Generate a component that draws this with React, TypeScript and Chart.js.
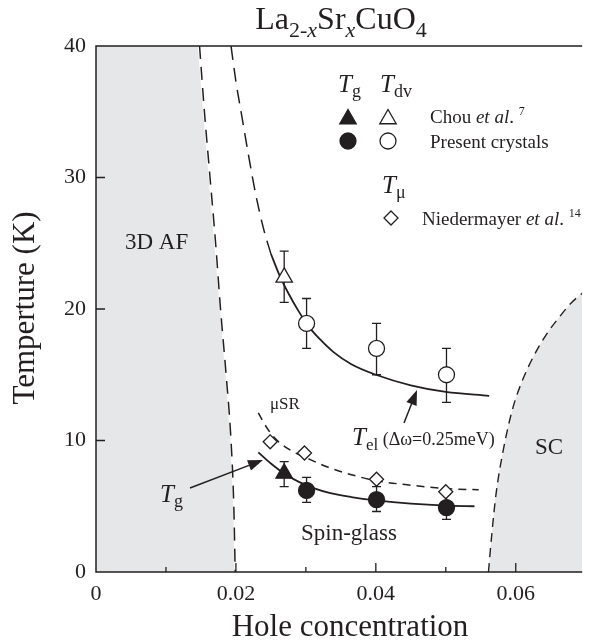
import React, { useEffect, useRef } from 'react';
import { Chart, registerables } from 'chart.js';

Chart.register(...registerables);

const INK = '#231f20';
const SHADE = '#e6e7e8';
const SERIF = '"Liberation Serif", "Times New Roman", Times, serif';

// ---------- data ----------
// 3D AF region (shaded) and its dashed boundary
const afShadeX = [0, 0.01455, 0.0153, 0.0161, 0.0169, 0.0177, 0.0185, 0.0192, 0.0196, 0.0198];
const afShadeT = [40, 40, 35, 30, 25, 20, 15, 10, 5, 0];
const afLineX = [0.0148, 0.0155, 0.0163, 0.0171, 0.0178, 0.0186, 0.0193, 0.0197, 0.0199];
const afLineT = [40, 35, 30, 25, 20, 15, 10, 5, 0];

// SC region (shaded) and its dashed boundary
const scX = [0.0561, 0.0566, 0.0572, 0.0583, 0.0596, 0.0609, 0.0625, 0.0643, 0.0664, 0.068, 0.0695];
const scT = [0, 3, 6, 9.5, 12.5, 14.5, 16.35, 18, 19.5, 20.5, 21.2];

// T_el curve: dashed extrapolation + solid fit
const telDashX = [0.0193, 0.02, 0.0208, 0.0217, 0.0228, 0.024, 0.025];
const telDashT = [40, 37.3, 34.8, 32.0, 28.8, 26.0, 24.2];
const telX = [0.025, 0.0262, 0.0275, 0.029, 0.0305, 0.032, 0.034, 0.0365, 0.04, 0.045, 0.05, 0.0562];
const telT = [24.2, 22.6, 21.2, 19.8, 18.6, 17.7, 16.7, 15.8, 15.0, 14.2, 13.7, 13.4];

// T_g solid curve
const tgCurveX = [0.0232, 0.025, 0.027, 0.029, 0.031, 0.0335, 0.0365, 0.04, 0.045, 0.05, 0.0541];
const tgCurveT = [9.1, 8.25, 7.45, 6.85, 6.4, 6.0, 5.7, 5.45, 5.2, 5.05, 5.0];

// muSR dashed curve
const muCurveX = [0.0232, 0.0245, 0.026, 0.028, 0.03, 0.033, 0.0365, 0.04, 0.045, 0.05, 0.0547];
const muCurveT = [12.1, 10.9, 9.95, 9.2, 8.7, 8.0, 7.4, 6.95, 6.6, 6.35, 6.25];

// Chou et al.
const chouX = [0.0269];
const chouTg = [7.5];
const chouTgLo = [6.5];
const chouTgHi = [8.4];
const chouTdv = [22.4];
const chouTdvLo = [20.5];
const chouTdvHi = [24.4];

// Present crystals
const presentX = [0.0301, 0.0401, 0.0501];
const presentTg = [6.2, 5.5, 4.9];
const presentTgLo = [5.3, 4.6, 4.0];
const presentTgHi = [7.2, 6.5, 5.9];
const presentTdv = [18.9, 17.0, 15.0];
const presentTdvLo = [17.0, 15.0, 12.9];
const presentTdvHi = [20.8, 18.9, 17.0];

// Niedermayer et al. (T_mu)
const niedX = [0.0249, 0.0298, 0.0401, 0.05];
const niedT = [9.9, 9.05, 7.05, 6.1];

// axis
const xTickStep = 0.01;
const yTickStep = 10;

const pts = (xs: number[], ys: number[]) => xs.map((x, i) => ({ x, y: ys[i] }));

// ---------- drawing helpers ----------
type Seg = { t: string; size: number; italic?: boolean; dy?: number };
function rich(ctx: CanvasRenderingContext2D, x: number, y: number, segs: Seg[], align: 'left' | 'center' = 'left') {
  ctx.save();
  ctx.textBaseline = 'alphabetic';
  ctx.textAlign = 'left';
  ctx.fillStyle = INK;
  const f = (s: Seg) => `${s.italic ? 'italic ' : ''}${s.size}px ${SERIF}`;
  let w = 0;
  for (const s of segs) {
    ctx.font = f(s);
    w += ctx.measureText(s.t).width;
  }
  let cx = align === 'center' ? x - w / 2 : x;
  for (const s of segs) {
    ctx.font = f(s);
    ctx.fillText(s.t, cx, y + (s.dy || 0));
    cx += ctx.measureText(s.t).width;
  }
  ctx.restore();
}

const R_CIRCLE = 8;
const R_TRI = 9.5;
const R_DIA = 7;

function marker(ctx: CanvasRenderingContext2D, shape: string, x: number, y: number, filled: boolean) {
  ctx.save();
  ctx.beginPath();
  if (shape === 'circle') {
    ctx.arc(x, y, R_CIRCLE, 0, Math.PI * 2);
  } else if (shape === 'triangle') {
    const r = R_TRI;
    ctx.moveTo(x, y - r);
    ctx.lineTo(x + r * Math.sin((2 * Math.PI) / 3), y - r * Math.cos((2 * Math.PI) / 3));
    ctx.lineTo(x + r * Math.sin((4 * Math.PI) / 3), y - r * Math.cos((4 * Math.PI) / 3));
  } else {
    const r = R_DIA;
    ctx.moveTo(x, y - r);
    ctx.lineTo(x + r, y);
    ctx.lineTo(x, y + r);
    ctx.lineTo(x - r, y);
  }
  ctx.closePath();
  ctx.fillStyle = filled ? INK : '#ffffff';
  ctx.fill();
  ctx.lineWidth = 1.3;
  ctx.strokeStyle = INK;
  ctx.stroke();
  ctx.restore();
}

function arrow(ctx: CanvasRenderingContext2D, x1: number, y1: number, x2: number, y2: number) {
  const ang = Math.atan2(y2 - y1, x2 - x1);
  const L = 15;
  const W = 5.5;
  const bx = x2 - L * Math.cos(ang);
  const by = y2 - L * Math.sin(ang);
  ctx.save();
  ctx.strokeStyle = INK;
  ctx.fillStyle = INK;
  ctx.lineWidth = 1.5;
  ctx.beginPath();
  ctx.moveTo(x1, y1);
  ctx.lineTo(bx, by);
  ctx.stroke();
  ctx.beginPath();
  ctx.moveTo(x2, y2);
  ctx.lineTo(bx + W * Math.sin(ang), by - W * Math.cos(ang));
  ctx.lineTo(bx - W * Math.sin(ang), by + W * Math.cos(ang));
  ctx.closePath();
  ctx.fill();
  ctx.restore();
}

const overlay = {
  id: 'overlay',
  beforeDatasetsDraw(chart: any) {
    const ctx: CanvasRenderingContext2D = chart.ctx;
    const xs = chart.scales.x;
    const ys = chart.scales.y;
    const bars = (X: number[], lo: number[], hi: number[]) => {
      X.forEach((xv, i) => {
        const px = xs.getPixelForValue(xv);
        const p1 = ys.getPixelForValue(lo[i]);
        const p2 = ys.getPixelForValue(hi[i]);
        ctx.save();
        ctx.strokeStyle = INK;
        ctx.lineWidth = 1.3;
        ctx.beginPath();
        ctx.moveTo(px, p1);
        ctx.lineTo(px, p2);
        ctx.moveTo(px - 4.5, p1);
        ctx.lineTo(px + 4.5, p1);
        ctx.moveTo(px - 4.5, p2);
        ctx.lineTo(px + 4.5, p2);
        ctx.stroke();
        ctx.restore();
      });
    };
    bars(chouX, chouTgLo, chouTgHi);
    bars(chouX, chouTdvLo, chouTdvHi);
    bars(presentX, presentTgLo, presentTgHi);
    bars(presentX, presentTdvLo, presentTdvHi);
  },
  afterDraw(chart: any) {
    const ctx: CanvasRenderingContext2D = chart.ctx;
    const { left, right, top, bottom } = chart.chartArea;
    const xs = chart.scales.x;
    const ys = chart.scales.y;

    // frame
    ctx.save();
    ctx.strokeStyle = INK;
    ctx.lineWidth = 1.5;
    ctx.beginPath();
    ctx.moveTo(right, top);
    ctx.lineTo(left, top);
    ctx.lineTo(left, bottom);
    ctx.lineTo(right, bottom);
    ctx.stroke();
    // inward ticks
    ctx.lineWidth = 1.3;
    ctx.beginPath();
    xs.ticks.forEach((t: any) => {
      const n = Math.round(t.value / xTickStep);
      if (n === 0) return;
      const px = xs.getPixelForValue(t.value);
      const len = n % 2 === 0 ? 9 : 5;
      ctx.moveTo(px, bottom);
      ctx.lineTo(px, bottom - len);
    });
    ys.ticks.forEach((t: any) => {
      if (t.value <= 0 || t.value >= 40) return;
      const py = ys.getPixelForValue(t.value);
      ctx.moveTo(left, py);
      ctx.lineTo(left + 9, py);
    });
    ctx.stroke();
    ctx.restore();

    // title
    rich(ctx, 341, 29, [
      { t: 'La', size: 32 },
      { t: '2-', size: 22, dy: 8 },
      { t: 'x', size: 22, italic: true, dy: 8 },
      { t: 'Sr', size: 32 },
      { t: 'x', size: 22, italic: true, dy: 8 },
      { t: 'CuO', size: 32 },
      { t: '4', size: 22, dy: 8 },
    ], 'center');

    // axis titles
    rich(ctx, 350, 636, [{ t: 'Hole concentration', size: 31 }], 'center');
    ctx.save();
    ctx.translate(34, 308);
    ctx.rotate(-Math.PI / 2);
    rich(ctx, 0, 0, [{ t: 'Temperture (K)', size: 31 }], 'center');
    ctx.restore();

    // region labels
    rich(ctx, 125, 249, [{ t: '3D AF', size: 23 }]);
    rich(ctx, 535, 454, [{ t: 'SC', size: 23 }]);
    rich(ctx, 301, 540, [{ t: 'Spin-glass', size: 23 }]);
    rich(ctx, 270, 409, [{ t: '\u03bcSR', size: 17 }]);

    // annotations with arrows
    rich(ctx, 160, 502, [
      { t: 'T', size: 25, italic: true },
      { t: 'g', size: 18, dy: 5 },
    ]);
    arrow(ctx, 190, 488, 263, 460);
    rich(ctx, 352, 445, [
      { t: 'T', size: 25, italic: true },
      { t: 'el', size: 17, dy: 5 },
      { t: ' (\u0394\u03c9=0.25meV)', size: 18 },
    ]);
    arrow(ctx, 404, 423, 417, 390);

    // legend
    rich(ctx, 338, 92, [{ t: 'T', size: 25, italic: true }, { t: 'g', size: 18, dy: 5 }]);
    rich(ctx, 380, 92, [{ t: 'T', size: 25, italic: true }, { t: 'dv', size: 18, dy: 5 }]);
    marker(ctx, 'triangle', 348, 119, true);
    marker(ctx, 'triangle', 388, 119, false);
    marker(ctx, 'circle', 348, 141, true);
    marker(ctx, 'circle', 388, 141, false);
    rich(ctx, 430, 123, [
      { t: 'Chou ', size: 19 },
      { t: 'et al', size: 19, italic: true },
      { t: '. ', size: 19 },
      { t: '7', size: 12, dy: -8 },
    ]);
    rich(ctx, 430, 148, [{ t: 'Present crystals', size: 19 }]);
    rich(ctx, 382, 193, [{ t: 'T', size: 25, italic: true }, { t: '\u03bc', size: 18, dy: 5 }]);
    marker(ctx, 'diamond', 391, 218, false);
    rich(ctx, 422, 225, [
      { t: 'Niedermayer ', size: 19 },
      { t: 'et al', size: 19, italic: true },
      { t: '. ', size: 19 },
      { t: '14', size: 12, dy: -8 },
    ]);
  },
};

export default function App() {
  const ref = useRef<HTMLCanvasElement>(null);
  useEffect(() => {
    if (!ref.current) return;
    const lineBase = { pointRadius: 0, borderColor: INK, fill: false, showLine: true, cubicInterpolationMode: 'monotone' as const };
    const chart = new Chart(ref.current, {
      type: 'line',
      data: {
        datasets: [
          // markers (top)
          { label: 'Chou Tg', data: pts(chouX, chouTg), showLine: false, pointStyle: 'triangle', pointRadius: R_TRI, pointBackgroundColor: INK, pointBorderColor: INK, pointBorderWidth: 1.3, order: 1 },
          { label: 'Chou Tdv', data: pts(chouX, chouTdv), showLine: false, pointStyle: 'triangle', pointRadius: R_TRI, pointBackgroundColor: '#ffffff', pointBorderColor: INK, pointBorderWidth: 1.3, order: 1 },
          { label: 'Present Tg', data: pts(presentX, presentTg), showLine: false, pointStyle: 'circle', pointRadius: R_CIRCLE, pointBackgroundColor: INK, pointBorderColor: INK, pointBorderWidth: 1.3, order: 1 },
          { label: 'Present Tdv', data: pts(presentX, presentTdv), showLine: false, pointStyle: 'circle', pointRadius: R_CIRCLE, pointBackgroundColor: '#ffffff', pointBorderColor: INK, pointBorderWidth: 1.3, order: 1 },
          { label: 'Niedermayer Tmu', data: pts(niedX, niedT), showLine: false, pointStyle: 'rectRot', pointRadius: R_DIA, pointBackgroundColor: '#ffffff', pointBorderColor: INK, pointBorderWidth: 1.3, order: 1 },
          // curves
          { label: 'Tel', data: pts(telX, telT), ...lineBase, borderWidth: 1.8, order: 2 },
          { label: 'Tel ext', data: pts(telDashX, telDashT), ...lineBase, borderWidth: 1.5, borderDash: [14, 8], order: 2 },
          { label: 'Tg curve', data: pts(tgCurveX, tgCurveT), ...lineBase, borderWidth: 1.8, order: 2 },
          { label: 'muSR', data: pts(muCurveX, muCurveT), ...lineBase, borderWidth: 1.5, borderDash: [8, 6], order: 2 },
          { label: 'AF boundary', data: pts(afLineX, afLineT), ...lineBase, borderWidth: 1.5, borderDash: [13, 8], order: 2 },
          { label: 'SC boundary', data: pts(scX, scT), ...lineBase, borderWidth: 1.4, borderDash: [9, 6], order: 2 },
          // shading (bottom)
          { label: 'AF shade', data: pts(afShadeX, afShadeT), pointRadius: 0, borderWidth: 0, borderColor: 'rgba(0,0,0,0)', backgroundColor: SHADE, fill: 'origin', showLine: true, order: 3 },
          { label: 'SC shade', data: pts(scX, scT), pointRadius: 0, borderWidth: 0, borderColor: 'rgba(0,0,0,0)', backgroundColor: SHADE, fill: 'origin', showLine: true, cubicInterpolationMode: 'monotone', order: 3 },
        ] as any,
      },
      options: {
        responsive: false,
        devicePixelRatio: 1,
        animation: false,
        events: [],
        layout: { padding: { left: 0, right: 0, top: 46, bottom: 0 } },
        plugins: { legend: { display: false }, tooltip: { enabled: false }, title: { display: false } },
        scales: {
          x: {
            type: 'linear',
            min: 0,
            max: 0.0695,
            grid: { display: false, drawTicks: false },
            border: { display: false },
            ticks: {
              stepSize: xTickStep,
              includeBounds: false,
              autoSkip: false,
              maxRotation: 0,
              padding: 9,
              color: INK,
              font: { family: SERIF, size: 22 },
              callback: (v: any) => {
                const n = Math.round(Number(v) * 100);
                if (n % 2 !== 0) return '';
                return n === 0 ? '0' : (n / 100).toFixed(2);
              },
            },
            afterFit: (s: any) => {
              s.height = 69;
            },
          },
          y: {
            type: 'linear',
            min: 0,
            max: 40,
            grid: { display: false, drawTicks: false },
            border: { display: false },
            ticks: {
              stepSize: yTickStep,
              padding: 10,
              color: INK,
              font: { family: SERIF, size: 22 },
            },
            afterFit: (s: any) => {
              s.width = 96;
            },
          },
        },
      } as any,
      plugins: [overlay],
    });
    return () => chart.destroy();
  }, []);
  return (
    <div style={{ position: 'absolute', left: 0, top: 0, width: 593, height: 641, background: '#ffffff' }}>
      <canvas ref={ref} width={593} height={641} style={{ display: 'block' }} />
    </div>
  );
}
